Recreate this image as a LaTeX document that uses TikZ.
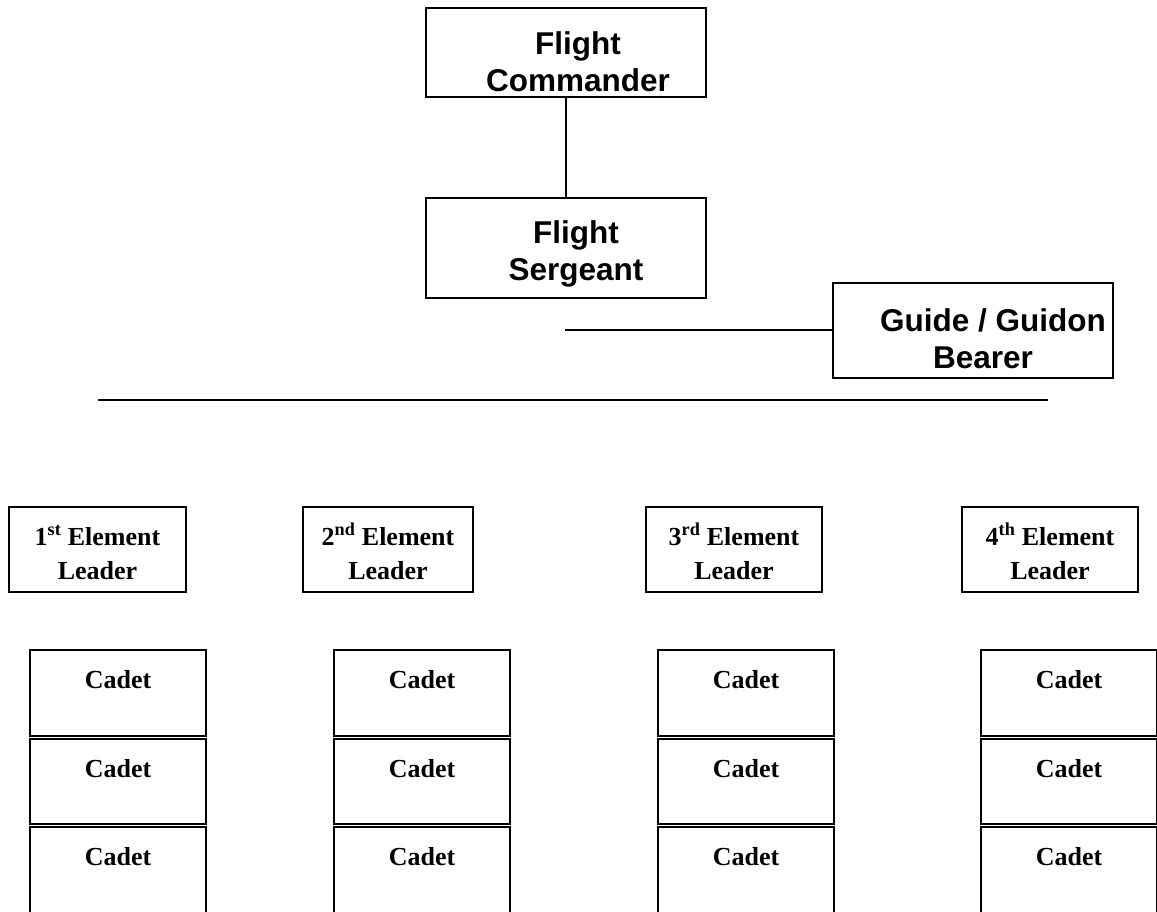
\documentclass[tikz,border=0pt]{standalone}
\usepackage{fontspec}
\setmainfont{Liberation Serif}
\newfontfamily\arialfont{Liberation Sans}
\begin{document}
\begin{tikzpicture}[x=1pt,y=-1pt,
  topbox/.style={draw=black,line width=1.3pt,inner sep=0pt},
  lowbox/.style={draw=black,line width=2pt,inner sep=0pt},
  toptext/.style={inner sep=0pt,anchor=base,align=center,font=\arialfont\bfseries\fontsize{31.5}{37}\selectfont},
  lowtext/.style={inner sep=0pt,anchor=base,align=center,font=\bfseries\fontsize{26}{34}\selectfont},
  link/.style={draw=black,line width=1.3pt},
  bar/.style={draw=black,line width=2pt}]
\useasboundingbox (0,0) rectangle (1157,912);
\clip (0,0) rectangle (1157,912);
% top boxes
\node[topbox,minimum width=280pt,minimum height=89pt] (fc) at (566,52.5) {};
\node[toptext] (fct) at (578,92) {Flight\\Commander};
\node[topbox,minimum width=280pt,minimum height=100pt] (fs) at (566,248) {};
\node[toptext] (fst) at (576,280) {Flight\\Sergeant};
\node[topbox,minimum width=280pt,minimum height=95pt] (gd) at (973,330.5) {};
\node[toptext] (gdt) at (993,368) {Guide / Guidon\\\hspace*{-20pt}Bearer};
\draw[link] (fc.south) -- (fs.north);
\coordinate (gl) at (565,330);
\draw[link] (gl) -- (gl -| gd.west);
\coordinate (b1) at (98,400);
\coordinate (b2) at (1048,400);
\draw[bar] (b1) -- (b2);
% element leaders
\node[lowbox,minimum width=177pt,minimum height=85pt] (e1) at (97.5,549.5) {};
\node[lowtext] (e1t) at (97.5,579) {1\textsuperscript{st} Element\\Leader};
\node[lowbox,minimum width=170pt,minimum height=85pt] (e2) at (388,549.5) {};
\node[lowtext] (e2t) at (388,579) {2\textsuperscript{nd} Element\\Leader};
\node[lowbox,minimum width=176pt,minimum height=85pt] (e3) at (734,549.5) {};
\node[lowtext] (e3t) at (734,579) {3\textsuperscript{rd} Element\\Leader};
\node[lowbox,minimum width=176pt,minimum height=85pt] (e4) at (1050,549.5) {};
\node[lowtext] (e4t) at (1050,579) {4\textsuperscript{th} Element\\Leader};
% cadets
\foreach \c/\x in {1/118,2/422,3/746,4/1069}{
  \node[lowbox,minimum width=176pt,minimum height=86pt] (c\c a) at (\x,693) {};
  \node[lowtext] (c\c at) at (\x,688) {Cadet};
  \node[lowbox,minimum width=176pt,minimum height=85pt] (c\c b) at (\x,781.5) {};
  \node[lowtext] (c\c bt) at (\x,777) {Cadet};
  \node[lowbox,minimum width=176pt,minimum height=100pt] (c\c c) at (\x,877) {};
  \node[lowtext] (c\c ct) at (\x,865) {Cadet};
}
\end{tikzpicture}
\end{document}
